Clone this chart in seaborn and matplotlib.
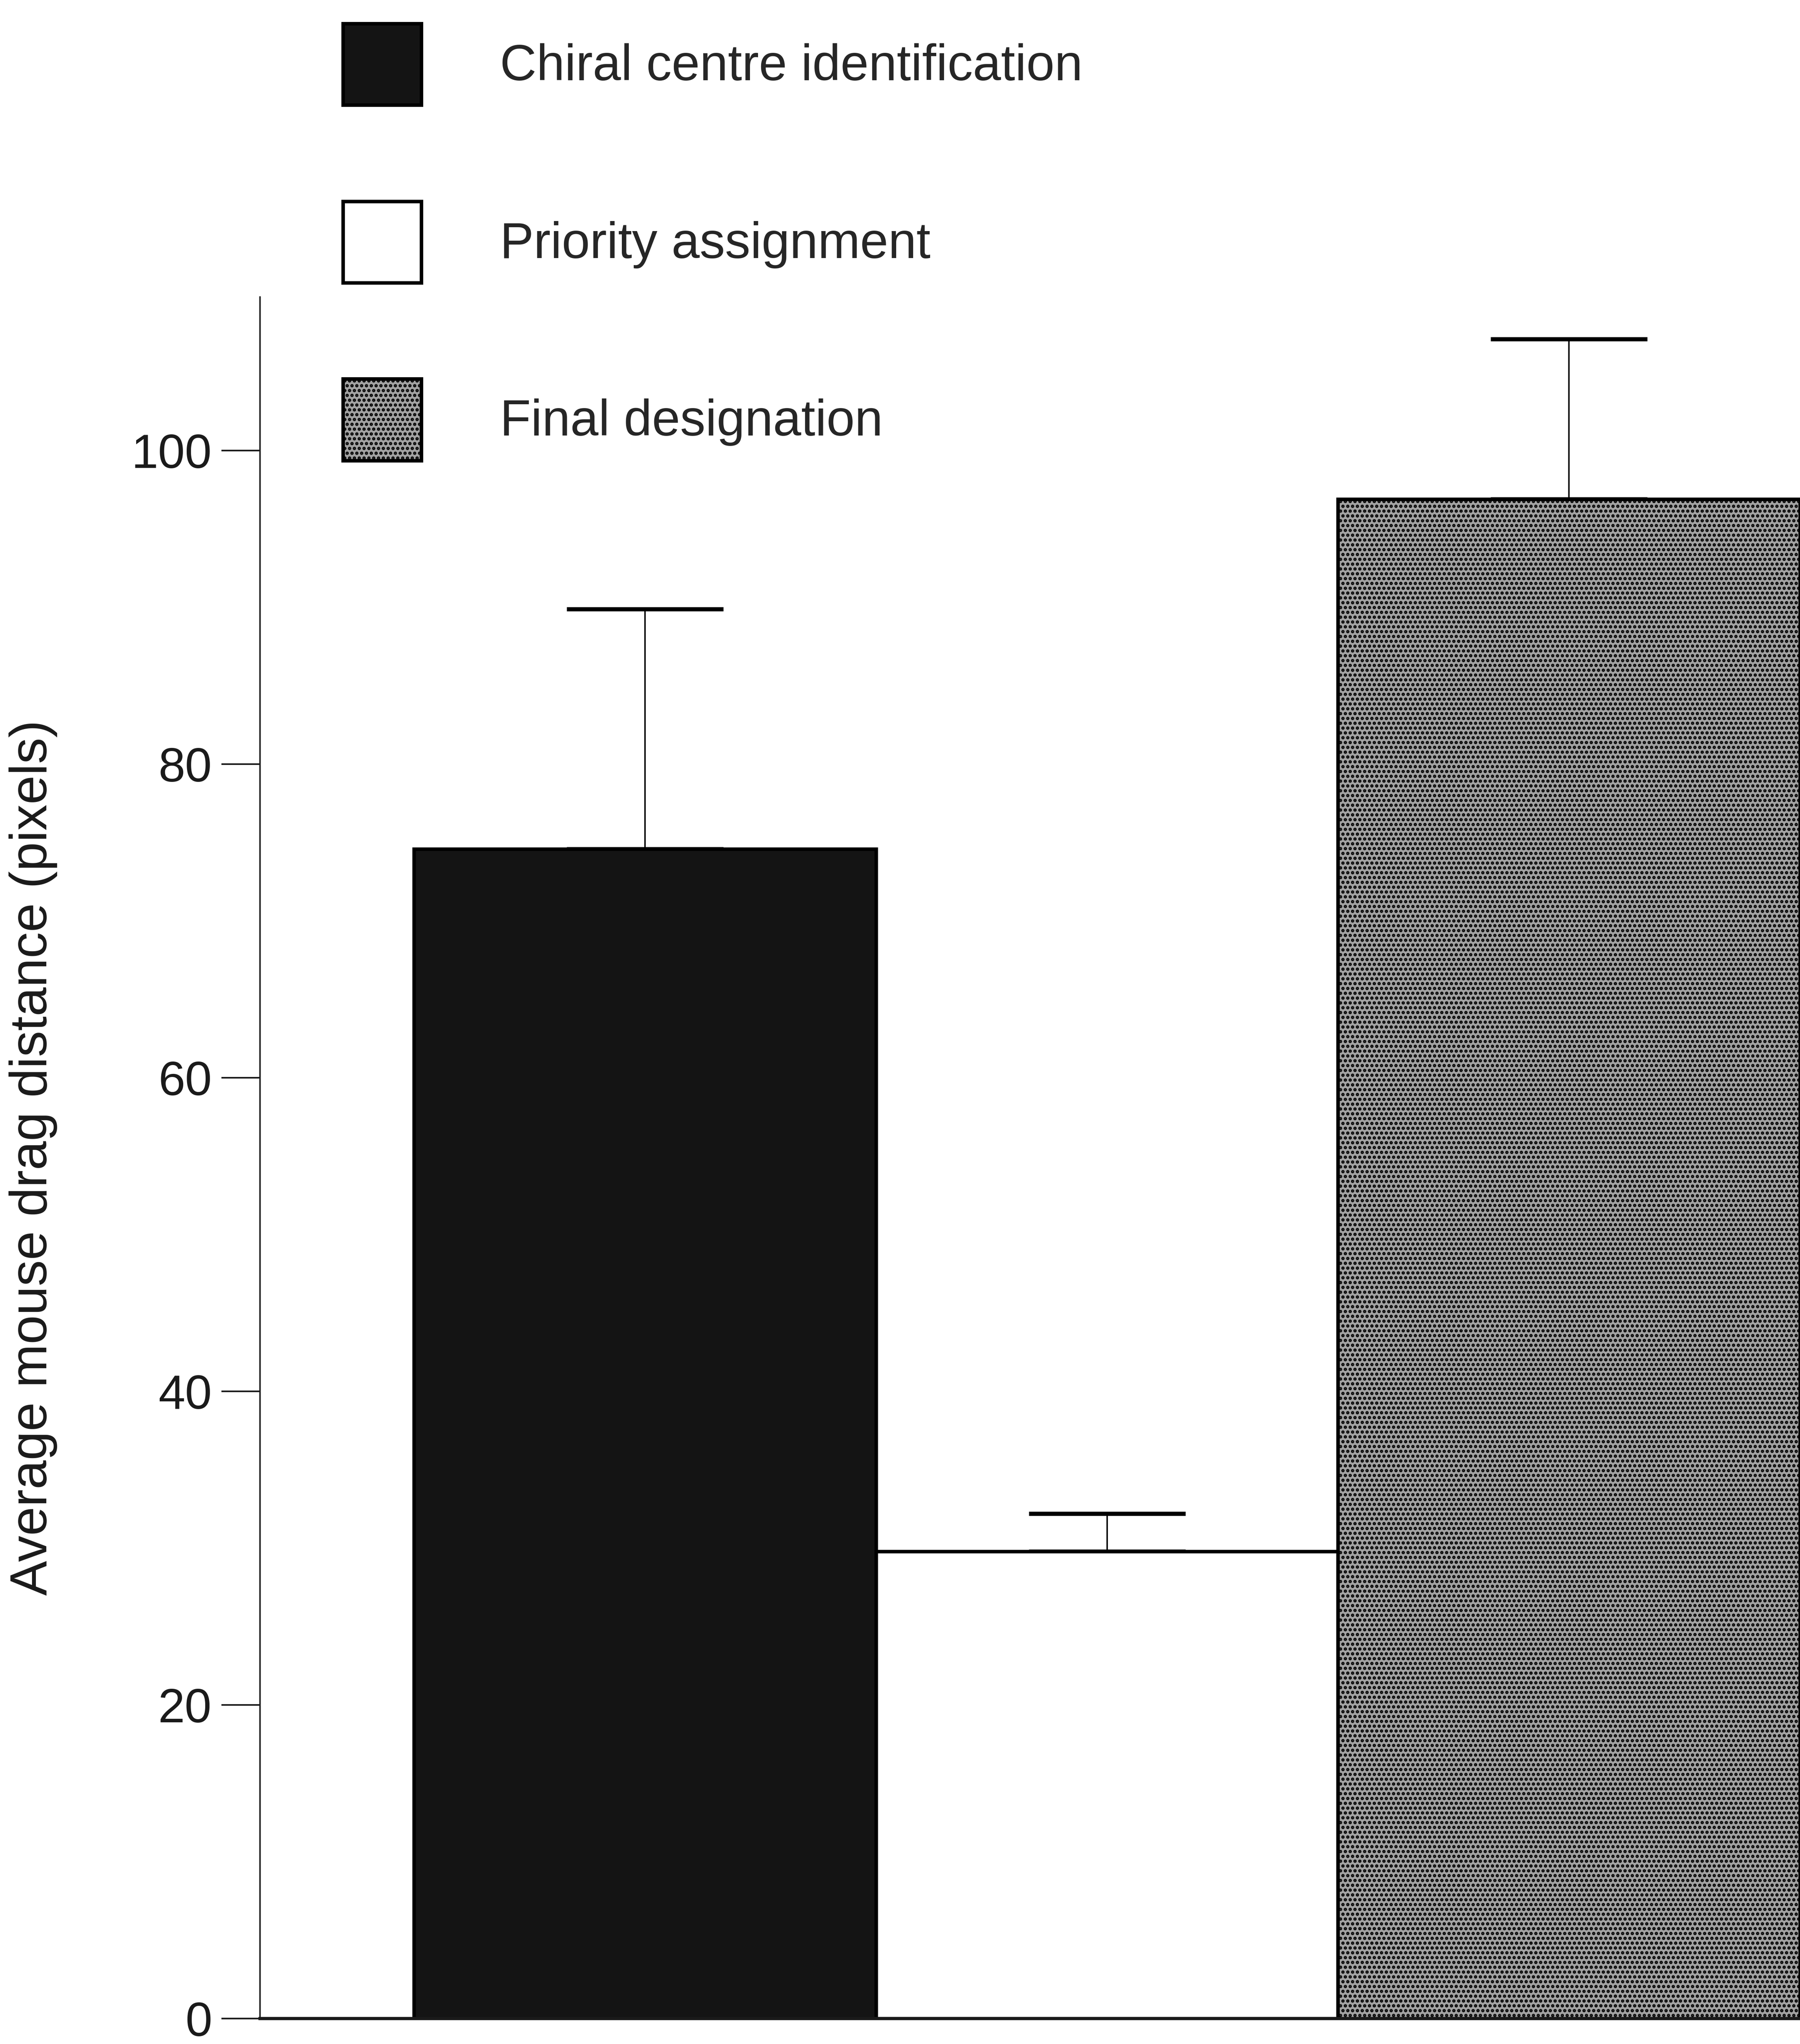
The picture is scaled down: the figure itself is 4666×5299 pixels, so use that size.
import matplotlib
matplotlib.use("Agg")
import matplotlib.pyplot as plt
import seaborn as sns
import pandas as pd

# ---- data ----
categories = ["Chiral centre identification", "Priority assignment", "Final designation"]
means = [74.6, 29.8, 96.9]
errors = [15.3, 2.4, 10.2]
yticks = [0, 20, 40, 60, 80, 100]
ylabel = "Average mouse drag distance (pixels)"
colors = ["#141414", "#ffffff", "#a2a2a2"]

sns.set_theme(style="ticks")
plt.rcParams["font.family"] = ["Liberation Sans", "DejaVu Sans"]
plt.rcParams["hatch.linewidth"] = 1.4

fig = plt.figure(figsize=(4666 / 300, 5299 / 300), dpi=300)
ax = fig.add_axes([0.1445, 0.01245, 0.8555, 0.8423])

df = pd.DataFrame({"cat": categories, "mean": means})
sns.barplot(data=df, x="cat", y="mean", hue="cat", palette=colors, width=1.0,
            edgecolor="black", linewidth=2.2, errorbar=None, legend=False,
            saturation=1, ax=ax)
bars = ax.patches[:3]
bars[2].set_hatch("....")

ax.errorbar(x=list(range(len(means))), y=means, yerr=[[0] * len(means), errors],
            fmt="none", ecolor="black", elinewidth=0.9, capsize=48.7,
            capthick=2.6, zorder=0.5)

ax.set_xlim(-0.833, 2.5)
ax.set_ylim(0, 109.8)
ax.set_yticks(yticks)
ax.set_xticks([])
ax.set_xlabel("")
ax.set_ylabel(ylabel, fontsize=32.5, color="#1a1a1a")
ax.yaxis.set_label_coords(-0.1317, 0.5)
ax.tick_params(axis="y", length=24, width=1.0, pad=6, labelsize=30,
               direction="out", colors="#1a1a1a")
for s in ["top", "right"]:
    ax.spines[s].set_visible(False)
ax.spines["left"].set_linewidth(0.9)
ax.spines["bottom"].set_linewidth(2.0)
ax.spines["left"].set_color("#1a1a1a")
ax.spines["bottom"].set_color("#1a1a1a")

fig.legend(bars, categories, loc="upper left", bbox_to_anchor=(0.1905, 0.9885),
           frameon=False, fontsize=31.5, handlelength=1.55, handleheight=2.1,
           handletextpad=1.55, labelspacing=1.9, borderpad=0, borderaxespad=0)

fig.savefig("out.png", dpi=300)
